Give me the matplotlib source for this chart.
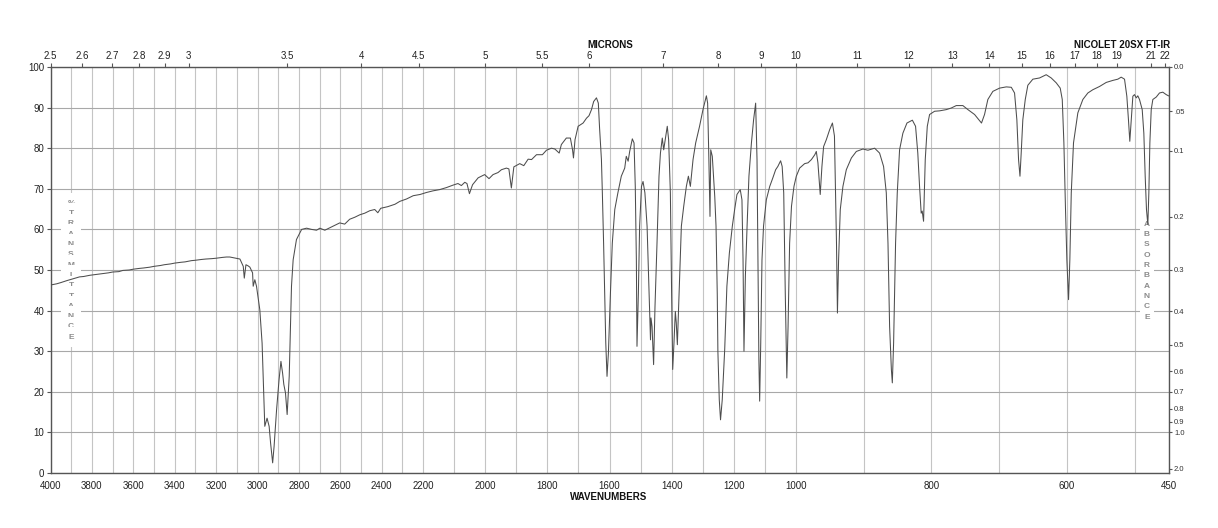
import numpy as np
import matplotlib
matplotlib.use("Agg")
import matplotlib.pyplot as plt

plt.rcParams['font.family'] = ['Liberation Sans', 'DejaVu Sans']

# ---------------- data ----------------
wavenumbers = [
    4000, 3970, 3950, 3920, 3900, 3880, 3860, 3840, 3810, 3780, 3750, 3720, 3700, 3670, 3650, 3620,
    3600, 3570, 3550, 3520, 3500, 3470, 3450, 3420, 3400, 3370, 3350, 3320, 3300, 3270, 3250, 3220,
    3200, 3170, 3150, 3134, 3085, 3069, 3064, 3056, 3045, 3037, 3024, 3021, 3013, 3005, 2989, 2978,
    2973, 2965, 2954, 2944, 2937, 2927, 2920, 2908, 2896, 2887, 2879, 2873, 2865, 2857, 2847, 2841,
    2836, 2828, 2812, 2787, 2763, 2739, 2715, 2699, 2675, 2651, 2627, 2603, 2579, 2555, 2530, 2506,
    2482, 2458, 2434, 2419, 2405, 2371, 2336, 2313, 2280, 2248, 2215, 2189, 2168, 2147, 2125, 2104,
    2088, 2077, 2066, 2059, 2051, 2041, 2023, 2002, 1988, 1975, 1959, 1948, 1932, 1924, 1916, 1908,
    1889, 1876, 1862, 1851, 1835, 1816, 1803, 1787, 1776, 1762, 1755, 1739, 1726, 1719, 1716, 1711,
    1701, 1685, 1674, 1666, 1658, 1651, 1642, 1636, 1632, 1626, 1623, 1619, 1615.5, 1612, 1608, 1603.5,
    1597, 1591, 1583, 1573, 1562, 1551, 1546, 1540, 1535, 1526.5, 1521, 1517, 1513.5, 1511.5, 1507, 1503,
    1497, 1492, 1486, 1479, 1473, 1468, 1466.5, 1463, 1458, 1453.5, 1447, 1440.6, 1436, 1430, 1425.5, 1419,
    1414, 1409.6, 1404, 1400, 1396.5, 1392.4, 1388, 1385, 1381.5, 1376, 1368.6, 1361, 1352.5, 1346, 1339.6, 1331,
    1322.5, 1310, 1299, 1288, 1284, 1280, 1276.4, 1274, 1269, 1267, 1261, 1257, 1253, 1251, 1246.5, 1242.5,
    1237, 1229, 1222, 1214, 1204.5, 1197, 1189.6, 1179, 1173.5, 1170, 1167, 1162.5, 1157, 1151, 1143, 1136,
    1129.4, 1125, 1122, 1119, 1116.5, 1113, 1109, 1104, 1095, 1084, 1074, 1065, 1058, 1049, 1044, 1039,
    1034, 1029, 1025, 1020, 1014, 1006, 999.3, 994.4, 987, 982, 977, 972, 969.8, 967.4, 964, 961.5,
    959, 955, 950, 946, 943, 941.5, 940, 938.6, 936.9, 934.4, 930.5, 925.5, 918, 910.7, 901, 893.6,
    883.7, 876.4, 870.5, 866.5, 864, 861.6, 859, 857.6, 855.7, 852.8, 850.3, 846.9, 842, 836, 828, 823.3,
    820, 817.4, 815, 813.5, 811.5, 809, 806, 802.6, 795.2, 787.9, 778, 770.6, 763.2, 753.5, 746, 736.2,
    730, 726, 721.5, 716.6, 709.2, 699.3, 689.4, 682, 677.2, 673.8, 671.3, 669.2, 667.4, 665, 661.4, 657.6,
    650.2, 640.3, 630.5, 623.1, 615.7, 609.8, 606.8, 604.4, 602, 600, 597.5, 595.6, 593.5, 590.2, 583.8, 576.4,
    569, 561.7, 551.8, 541.9, 532.1, 524.8, 519.8, 514.9, 511.5, 509.1, 507.1, 505, 502.6, 500.2, 497.6, 495.3,
    492.8, 488.8, 486.4, 484.4, 482.5, 480.5, 479, 477.5, 475.5, 473.1, 468.1, 463.3, 458.4, 453.4, 450,
]
transmittance = [
    46.3, 46.6, 46.9, 47.4, 47.7, 48.0, 48.3, 48.4, 48.7, 48.9, 49.1, 49.3, 49.5, 49.6, 49.9, 50.0,
    50.2, 50.4, 50.5, 50.7, 50.9, 51.1, 51.3, 51.5, 51.7, 51.9, 52.0, 52.3, 52.4, 52.6, 52.7, 52.8,
    52.9, 53.1, 53.2, 53.2, 52.7, 50.9, 48.0, 51.3, 51.0, 50.7, 49.3, 46.0, 47.6, 46.0, 40.2, 32.0,
    23.8, 11.5, 13.5, 11.5, 7.4, 2.5, 6.6, 15.6, 23.0, 27.5, 24.6, 21.8, 19.7, 14.4, 23.8, 36.0,
    46.0, 52.5, 57.5, 60.0, 60.3, 60.0, 59.8, 60.3, 59.8, 60.4, 61.0, 61.6, 61.3, 62.5, 63.0, 63.6,
    64.0, 64.6, 64.9, 64.1, 65.2, 65.6, 66.2, 66.9, 67.5, 68.3, 68.6, 69.1, 69.5, 69.8, 70.3, 70.9,
    71.3, 70.8, 71.6, 71.3, 68.8, 71.0, 72.7, 73.5, 72.5, 73.5, 74.0, 74.7, 75.1, 74.9, 70.2, 75.4,
    76.2, 75.7, 77.3, 77.2, 78.4, 78.4, 79.5, 80.0, 79.8, 78.8, 80.9, 82.5, 82.5, 79.6, 77.6, 82.1,
    85.4, 86.2, 87.4, 88.0, 89.5, 91.5, 92.4, 91.1, 85.0, 77.2, 69.0, 56.6, 44.3, 32.0, 23.8, 29.6,
    44.3, 56.6, 64.9, 69.0, 73.1, 75.1, 78.0, 76.8, 79.2, 82.3, 81.3, 70.6, 52.5, 31.2, 44.3, 60.8,
    70.6, 71.8, 69.0, 60.8, 46.0, 32.8, 38.2, 36.1, 26.7, 41.0, 56.7, 73.1, 78.8, 82.5, 79.6, 82.9,
    85.4, 82.1, 69.0, 44.3, 25.5, 32.0, 39.8, 37.0, 31.6, 44.3, 60.8, 65.7, 70.6, 73.1, 70.6, 77.2,
    81.3, 85.4, 89.5, 92.9, 91.1, 77.2, 63.2, 79.6, 78.0, 75.5, 68.0, 60.8, 44.0, 30.0, 18.0, 13.1,
    18.0, 30.5, 46.0, 54.2, 60.8, 64.9, 68.6, 69.8, 67.3, 52.5, 30.0, 48.4, 60.8, 73.1, 81.3, 87.0,
    91.1, 77.2, 52.5, 27.9, 17.7, 32.0, 52.5, 60.8, 67.3, 70.6, 72.7, 74.7, 75.5, 76.9, 75.5, 69.0,
    44.3, 23.4, 36.1, 56.6, 65.7, 70.6, 73.1, 75.1, 76.2, 76.4, 77.2, 78.4, 79.2, 76.4, 68.6, 75.5,
    80.4, 82.1, 84.6, 86.2, 83.0, 70.0, 56.6, 39.4, 52.5, 64.9, 70.6, 74.7, 77.6, 79.2, 79.8, 79.5,
    80.0, 78.8, 75.5, 69.0, 56.6, 36.1, 25.5, 22.2, 32.0, 56.6, 69.0, 79.6, 83.7, 86.2, 86.9, 85.4,
    78.8, 70.6, 64.0, 64.5, 62.0, 77.2, 85.4, 88.3, 89.1, 89.2, 89.5, 89.9, 90.5, 90.5, 89.5, 88.3,
    87.0, 86.2, 88.3, 92.0, 94.0, 94.8, 95.1, 95.0, 93.6, 87.0, 77.2, 73.1, 78.8, 87.0, 92.0, 95.5,
    97.0, 97.3, 98.1, 97.3, 96.1, 94.8, 92.0, 81.3, 64.9, 52.5, 42.7, 52.5, 69.0, 81.3, 88.7, 92.0,
    93.6, 94.4, 95.2, 96.2, 96.7, 97.0, 97.5, 97.0, 92.8, 87.0, 81.7, 87.0, 92.8, 93.2, 92.4, 92.9,
    92.0, 89.5, 83.7, 73.1, 64.9, 61.2, 69.0, 81.3, 89.5, 92.0, 92.6, 93.6, 93.8, 93.2, 92.9,
]

wavenumber_ticks = [4000, 3800, 3600, 3400, 3200, 3000, 2800, 2600, 2400, 2200,
                    2000, 1800, 1600, 1400, 1200, 1000, 800, 600, 450]
micron_ticks = [2.5, 2.6, 2.7, 2.8, 2.9, 3, 3.5, 4, 4.5, 5, 5.5, 6, 7, 8, 9,
                10, 11, 12, 13, 14, 15, 16, 17, 18, 19, 21, 22]
micron_labels = ['2.5', '2.6', '2.7', '2.8', '2.9', '3', '3.5', '4', '4.5', '5', '5.5',
                 '6', '7', '8', '9', '10', '11', '12', '13', '14', '15', '16', '17',
                 '18', '19', '21', '22']
absorbance_ticks = [0.0, 0.05, 0.1, 0.2, 0.3, 0.4, 0.5, 0.6, 0.7, 0.8, 0.9, 1.0, 2.0]
absorbance_labels = ['0.0', '.05', '0.1', '0.2', '0.3', '0.4', '0.5', '0.6', '0.7',
                     '0.8', '0.9', '1.0', '2.0']
percent_ticks = list(range(0, 101, 10))

# ---------------- piecewise-linear wavenumber scale ----------------
BRK_W = [450, 1000, 2200, 4000]
BRK_U = [0.0, 1.0, 2.0, 3.0]


def fwd(w):
    return np.interp(np.asarray(w, dtype=float), BRK_W, BRK_U)


def inv(u):
    return np.interp(np.asarray(u, dtype=float), BRK_U, BRK_W)


W, H = 1218, 528
fig = plt.figure(figsize=(W / 100, H / 100), dpi=100)
L, R, T, B = 50.5, 1168.5, 67.0, 473.0
ax = fig.add_axes([L / W, 1 - B / H, (R - L) / W, (B - T) / H])

ax.set_xscale('function', functions=(fwd, inv))
ax.set_xlim(4000, 450)
ax.set_ylim(0, 100)

spine_c = '#555555'
for s in ax.spines.values():
    s.set_color(spine_c)
    s.set_linewidth(1.0)

# grid
ax.set_axisbelow(True)
ax.set_xticks(wavenumber_ticks)
ax.set_xticklabels([str(v) for v in wavenumber_ticks])
ax.set_xticks(list(range(3900, 450, -100)), minor=True)
ax.set_yticks(percent_ticks)
ax.set_yticklabels([str(v) for v in percent_ticks])
ax.grid(True, axis='x', which='both', color='#c4c4c4', lw=0.8)
ax.grid(True, axis='y', which='major', color='#a8a8a8', lw=0.8)
ax.tick_params(axis='x', which='both', length=0, labelsize=7, pad=5.5, colors='#222222')
ax.tick_params(axis='y', which='major', length=3, width=0.8, labelsize=7, pad=1.5,
               colors='#222222')
ax.tick_params(axis='y', color=spine_c)

# spectrum
ax.plot(wavenumbers, transmittance, color='#4d4d4d', lw=0.75, zorder=3)

# vertical letter columns
def column(text, xfrac, ytop_px, step_px, padpt):
    for i, ch in enumerate(text):
        ypix = ytop_px + i * step_px
        ax.text(xfrac, (B - ypix) / (B - T), ch, transform=ax.transAxes,
                ha='center', va='center', fontsize=6, fontweight='bold',
                color='#8c8c8c', zorder=2.5,
                bbox=dict(boxstyle='square,pad=%g' % padpt, fc='white', ec='none'))

column('%TRANSMITTANCE', (71 - L) / (R - L), 203.3, 10.3, 0.8)
column('ABSORBANCE', (1147 - L) / (R - L), 224.0, 10.35, 0.45)

# top axis: microns
axt = ax.twiny()
axt.set_xscale('function', functions=(fwd, inv))
axt.set_xlim(4000, 450)
axt.set_xticks([10000.0 / m for m in micron_ticks])
axt.set_xticklabels(micron_labels)
axt.xaxis.set_minor_locator(matplotlib.ticker.NullLocator())
axt.tick_params(axis='x', direction='out', length=3, width=0.8, labelsize=7, pad=1,
                color=spine_c, labelcolor='#222222')
for s in axt.spines.values():
    s.set_visible(False)

# right axis: absorbance
axr = ax.twinx()
axr.set_ylim(0, 100)
axr.set_yticks([100 * 10 ** (-a) for a in absorbance_ticks])
axr.set_yticklabels(absorbance_labels)
axr.tick_params(axis='y', direction='out', length=2.5, width=0.8, labelsize=5.5, pad=1.5,
                color=spine_c, labelcolor='#333333')
for s in axr.spines.values():
    s.set_visible(False)

# titles
fig.text(610 / W, 1 - 45 / H, 'MICRONS', ha='center', va='center',
         fontsize=7, fontweight='bold', color='#111111')
fig.text(1170 / W, 1 - 45 / H, 'NICOLET 20SX FT-IR', ha='right', va='center',
         fontsize=7, fontweight='bold', color='#111111')
fig.text(609 / W, 1 - 497 / H, 'WAVENUMBERS', ha='center', va='center',
         fontsize=7, fontweight='bold', color='#111111')

fig.savefig('out.png', dpi=100, facecolor='white')
